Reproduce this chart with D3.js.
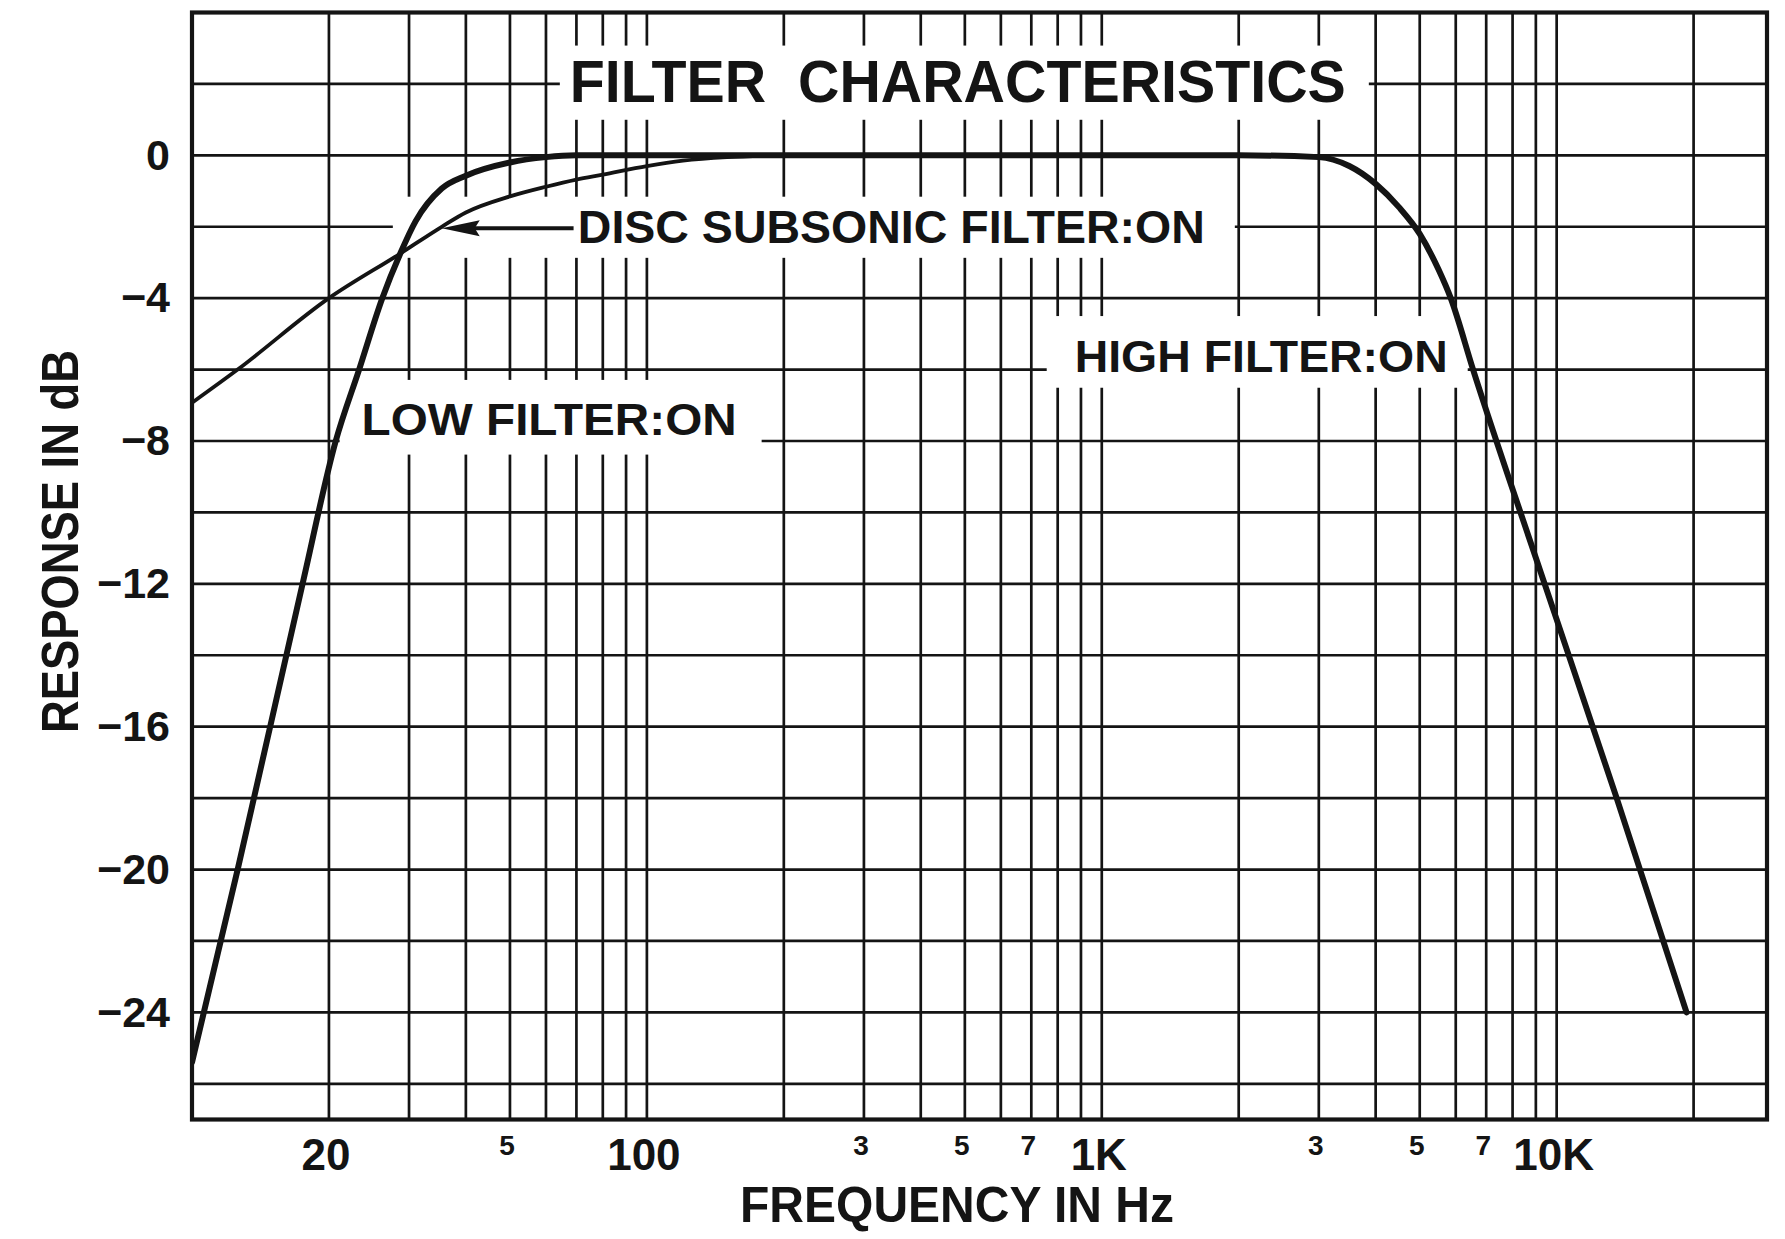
<!DOCTYPE html>
<html>
<head>
<meta charset="utf-8">
<script src="https://cdn.jsdelivr.net/npm/d3@7"></script>
<style>
  html, body { margin: 0; padding: 0; background: #ffffff; }
  svg { display: block; }
  text { font-family: "Liberation Sans", Arial, Helvetica, sans-serif; font-weight: bold; fill: #141414; }
</style>
</head>
<body>
<svg id="chart" width="1785" height="1239"></svg>
<script>
// ---------------- DATA ----------------
const lowFreq  = [10, 12.6, 17.5, 20.7, 23.3, 26.2, 28.7, 31, 35.4, 40, 50, 60, 70, 1000];
const lowDb    = [-25.4, -20, -12, -8, -6, -4, -2.75, -1.85, -0.93, -0.57, -0.2, -0.05, 0, 0];

const highFreq = [1000, 2000, 3000, 3500, 4000, 4500, 5000, 5500, 5850, 6550, 9410, 13550, 19300];
const highDb   = [0, 0, -0.05, -0.3, -0.8, -1.45, -2.2, -3.2, -4, -6, -12, -18, -24];

const subFreq  = [10, 12.6, 20, 28.7, 35.4, 40, 50, 60, 70, 80, 100, 120, 150, 200];
const subDb    = [-6.93, -6, -4, -2.75, -2, -1.6, -1.15, -0.88, -0.68, -0.54, -0.3, -0.15, -0.05, 0];

const gridFreqs = [20, 30, 40, 50, 60, 70, 80, 90,
                   100, 200, 300, 400, 500, 600, 700, 800, 900,
                   1000, 2000, 3000, 4000, 5000, 6000, 7000, 8000, 9000,
                   10000, 20000];
const gridDb = [2, 0, -2, -4, -6, -8, -10, -12, -14, -16, -18, -20, -22, -24, -26];

const yTickValues = [0, -4, -8, -12, -16, -20, -24];
const xMajorTicks = [20, 100, 1000, 10000];
const xMajorLabels = ["20", "100", "1K", "10K"];
const xMinorTicks = [50, 300, 500, 700, 3000, 5000, 7000];
const xMinorLabels = ["5", "3", "5", "7", "3", "5", "7"];

const labelTexts = ["FILTER  CHARACTERISTICS", "DISC SUBSONIC FILTER:ON", "HIGH FILTER:ON", "LOW FILTER:ON"];
const labelFreq  = [67.7, 70.5, 872, 23.6];
const labelDb    = [1.5, -2.45, -6.06, -7.82];

const arrowTip  = [35.4, -2.04];
const arrowTail = [69, -2.04];

// ---------------- LAYOUT / STYLE ----------------
const plot = { left: 192, right: 1767, top: 12.5, bottom: 1119.5 };
const labelStyle = [
  { size: 60, width: 776, pad: [10, 23, 13, 18] },
  { size: 46, width: 627, pad: [185, 30, 13, 15] },
  { size: 44, width: 373, pad: [28, 20, 24, 16] },
  { size: 44, width: 375, pad: [22, 25, 23, 20] }
];
const ink = "#141414";

const svg = d3.select("#chart");
svg.append("rect").attr("width", 1785).attr("height", 1239).attr("fill", "#ffffff");

const x = d3.scaleLog().domain([10, 29000]).range([plot.left, plot.right]);
const y = d3.scaleLinear().domain([-27, 4]).range([plot.bottom, plot.top]);

svg.append("defs").append("clipPath").attr("id", "plotclip")
  .append("rect")
  .attr("x", plot.left).attr("y", plot.top)
  .attr("width", plot.right - plot.left).attr("height", plot.bottom - plot.top);

// grid
const grid = svg.append("g").attr("stroke", ink).attr("stroke-width", 2.7);
grid.selectAll("line.v").data(gridFreqs).join("line")
  .attr("class", "v")
  .attr("x1", d => x(d)).attr("x2", d => x(d))
  .attr("y1", plot.top).attr("y2", plot.bottom);
grid.selectAll("line.h").data(gridDb).join("line")
  .attr("class", "h")
  .attr("x1", plot.left).attr("x2", plot.right)
  .attr("y1", d => y(d)).attr("y2", d => y(d));

// label background boxes (hide grid behind annotations)
const boxes = svg.append("g");
labelTexts.forEach((t, i) => {
  const st = labelStyle[i];
  const x0 = x(labelFreq[i]);
  const base = y(labelDb[i]);
  const cap = st.size * 0.72;
  boxes.append("rect")
    .attr("x", x0 - st.pad[0])
    .attr("y", base - cap - st.pad[2])
    .attr("width", st.width + st.pad[0] + st.pad[1])
    .attr("height", cap + st.pad[2] + st.pad[3])
    .attr("fill", "#ffffff");
});

// curves
const line = d3.line().x(d => x(d[0])).y(d => y(d[1])).curve(d3.curveMonotoneX);
const curves = svg.append("g").attr("clip-path", "url(#plotclip)").attr("fill", "none")
  .attr("stroke", ink).attr("stroke-linejoin", "round").attr("stroke-linecap", "round");

curves.append("path")
  .datum(subFreq.map((f, i) => [f, subDb[i]]))
  .attr("d", line).attr("stroke-width", 3.8);
curves.append("path")
  .datum(lowFreq.map((f, i) => [f, lowDb[i]]))
  .attr("d", line).attr("stroke-width", 6);
curves.append("path")
  .datum(highFreq.map((f, i) => [f, highDb[i]]))
  .attr("d", line).attr("stroke-width", 6);

// arrow
const tipX = x(arrowTip[0]), tipY = y(arrowTip[1]);
const tailX = x(arrowTail[0]);
svg.append("line")
  .attr("x1", tipX + 25).attr("x2", tailX)
  .attr("y1", tipY).attr("y2", tipY)
  .attr("stroke", ink).attr("stroke-width", 4);
svg.append("path")
  .attr("d", `M${tipX},${tipY} L${tipX + 38},${tipY - 8} L${tipX + 33},${tipY} L${tipX + 38},${tipY + 8} Z`)
  .attr("fill", ink);

// frame
svg.append("rect")
  .attr("x", plot.left).attr("y", plot.top)
  .attr("width", plot.right - plot.left).attr("height", plot.bottom - plot.top)
  .attr("fill", "none").attr("stroke", ink).attr("stroke-width", 4.2);

// annotation texts
labelTexts.forEach((t, i) => {
  const st = labelStyle[i];
  svg.append("text")
    .attr("x", x(labelFreq[i]))
    .attr("y", y(labelDb[i]))
    .attr("font-size", st.size)
    .attr("textLength", st.width)
    .attr("lengthAdjust", "spacingAndGlyphs")
    .style("white-space", "pre")
    .text(t);
});

// y axis tick labels
const yAxis = d3.axisLeft(y).tickValues(yTickValues).tickSize(0).tickPadding(0)
  .tickFormat(d3.format("d"));
const yg = svg.append("g").attr("transform", `translate(${plot.left - 22},0)`).call(yAxis);
yg.select(".domain").remove();
yg.selectAll("text").attr("font-size", 43).attr("fill", ink)
  .attr("font-family", "'Liberation Sans', Arial, sans-serif").attr("font-weight", "bold");

// x axis tick labels
const xg = svg.append("g");
xg.selectAll("text.maj").data(xMajorTicks).join("text")
  .attr("class", "maj")
  .attr("x", d => x(d) - 3)
  .attr("y", 1170)
  .attr("text-anchor", "middle")
  .attr("font-size", 44)
  .text((d, i) => xMajorLabels[i]);
xg.selectAll("text.min").data(xMinorTicks).join("text")
  .attr("class", "min")
  .attr("x", d => x(d) - 3)
  .attr("y", 1155)
  .attr("text-anchor", "middle")
  .attr("font-size", 28)
  .text((d, i) => xMinorLabels[i]);

// axis titles
svg.append("text")
  .attr("x", 957).attr("y", 1222)
  .attr("text-anchor", "middle")
  .attr("font-size", 50)
  .attr("textLength", 434).attr("lengthAdjust", "spacingAndGlyphs")
  .text("FREQUENCY IN Hz");

svg.append("text")
  .attr("transform", "translate(78,541.5) rotate(-90)")
  .attr("text-anchor", "middle")
  .attr("font-size", 52)
  .attr("textLength", 383).attr("lengthAdjust", "spacingAndGlyphs")
  .text("RESPONSE IN dB");
</script>
</body>
</html>
